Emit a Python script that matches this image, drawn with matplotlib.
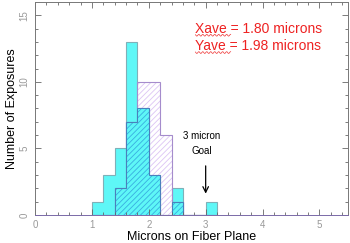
import numpy as np
import matplotlib
matplotlib.use("Agg")
import matplotlib.pyplot as plt

plt.rcParams['font.family'] = ['Liberation Sans', 'DejaVu Sans']
plt.rcParams['hatch.linewidth'] = 0.6

# histogram data (bin width 0.2 micron)
bin_edges = [1.0, 1.2, 1.4, 1.6, 1.8, 2.0, 2.2, 2.4, 2.6, 2.8, 3.0, 3.2]
x_counts = [1, 3, 5, 13, 8, 3, 0, 2, 0, 0, 1]
y_counts = [0, 0, 2, 7, 10, 10, 6, 1, 0, 0, 0]

x_ave = 1.80
y_ave = 1.98
goal = 3.0

fig = plt.figure(figsize=(3.5, 2.43), dpi=100)
ax = fig.add_axes([0.1, 0.115, 0.894, 0.877])

overlap = np.minimum(x_counts, y_counts)

ax.stairs(x_counts, bin_edges, fill=True, facecolor='#5ef7f7',
          edgecolor='#7fb0b8', linewidth=0.8)
ax.stairs(y_counts, bin_edges, fill=True, facecolor='none',
          edgecolor='#dcc4f4', hatch='//////', linewidth=0)
ax.stairs(y_counts, bin_edges, edgecolor='#a58ccc', linewidth=0.8)
ax.stairs(overlap, bin_edges, fill=True, facecolor='#5ef7f7',
          edgecolor='#38aee0', hatch='//////', linewidth=0)
ax.stairs(overlap, bin_edges, edgecolor='#4a80bc', linewidth=0.8)

ax.set_xlim(0, 5.5)
ax.set_ylim(0, 16)
ax.set_xticks([0, 1, 2, 3, 4, 5])
ax.set_xticks(np.arange(0, 5.5, 0.2), minor=True)
ax.set_yticks([0, 5, 10, 15])
ax.set_yticks(np.arange(0, 16, 1), minor=True)
ax.tick_params(which='both', direction='in', top=True, right=True,
               colors='#666666', labelcolor='#999999', labelsize=7, width=0.6)
ax.tick_params(which='major', length=4)
ax.tick_params(which='minor', length=2)
ax.tick_params(axis='y', labelrotation=90, pad=4)
for lbl in ax.get_yticklabels():
    lbl.set_va('center')
for s in ax.spines.values():
    s.set_color('#777777')
    s.set_linewidth(0.7)
ax.spines['bottom'].set_color('#7a6aa8')

ax.set_xlabel('Microns on Fiber Plane', fontsize=9, labelpad=1)
ax.set_ylabel('Number of Exposures', fontsize=9, labelpad=1)

ax.text(2.82, 14.0, 'Xave = %.2f microns' % x_ave, color='#ee2222', fontsize=10,
        va='center')
ax.text(2.82, 12.7, 'Yave = %.2f microns' % y_ave, color='#ee2222', fontsize=10,
        va='center')

# spell-check squiggles under "Xave" and "Yave"
wx = np.linspace(2.82, 3.44, 50)
for base in (13.5, 12.2):
    ax.plot(wx, base + 0.07 * np.sin(wx * 90), color='#ee3333', lw=0.5)

ax.text(2.93, 5.4, '3 micron\nGoal', ha='center', va='center', fontsize=7,
        linespacing=1.6)
ax.annotate('', xy=(goal, 1.4), xytext=(goal, 3.9),
            arrowprops=dict(arrowstyle='->', color='black', lw=0.9))

fig.savefig('out.png', dpi=100)
